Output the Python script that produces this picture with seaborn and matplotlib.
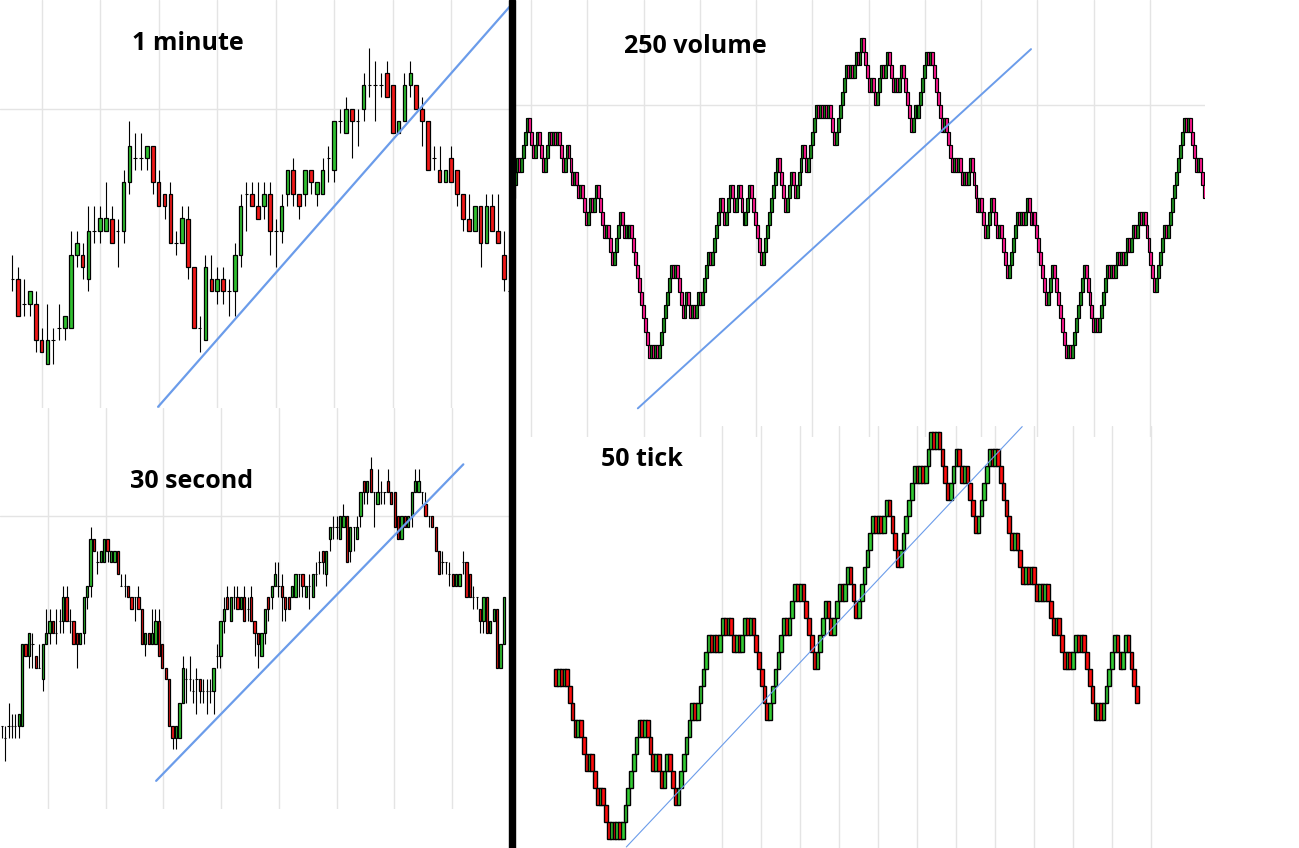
import numpy as np
import matplotlib
matplotlib.use("Agg")
import matplotlib.pyplot as plt
from matplotlib.patches import Rectangle
import seaborn as sns

# ---- 1 minute candles (price in tick levels) ----
tl_open = [7,7,5,5,5,2,0,2,3,3, 3,9,9,7,11,11,11,12,11,11,
           15,17,17,17,18,15,14,14,10,10, 12,8,3,2,7,6,7,6,6,9,
           14,14,13,13,14,11,11,14,16,14, 14,16,14,14,17,16,20,19,21,20,
           21,23,23,23,24,23,19,20,23,23, 21,20,17,16,15,17,16,14,12,11,
           13,10,13,11,9,6]
tl_close = [7,4,5,6,2,1,2,2,3,4, 9,10,8,11,11,12,12,10,11,15,
            18,17,17,18,15,13,13,10,10,12, 8,3,3,8,6,7,6,6,9,13,
            14,13,12,14,11,11,13,16,14,13, 16,15,15,16,17,20,20,21,20,20,
            23,23,23,23,22,19,20,23,24,21, 20,16,17,15,16,15,14,12,11,13,
            10,13,11,10,7,6]
tl_high = [9,8,7,6,6,3,5,3,5,4, 11,11,10,13,13,13,15,13,12,16,
           20,19,19,18,18,16,14,15,11,13, 13,8,4,9,9,8,8,7,10,14,
           15,15,15,15,15,12,14,16,17,14, 16,16,15,17,18,20,21,22,21,21,
           24,26,25,24,25,23,20,24,25,23, 22,20,18,18,16,18,16,14,14,13,
           13,14,14,14,11,6]
tl_low = [6,4,4,4,1,1,0,0,2,2, 3,8,7,6,10,10,11,10,8,10,
          14,16,16,16,14,13,12,10,9,10, 7,3,1,2,6,5,5,4,4,8,
          11,13,12,12,9,8,10,13,13,12, 13,14,13,14,15,15,19,19,17,18,
          20,22,20,22,22,19,19,20,22,21, 18,16,16,15,15,15,13,11,11,11,
          8,10,11,10,6,6]

# ---- 30 second candles ----
bl_open = [3,2,3,3,3,3,3,10,9,10, 9,8,7,10,11,12,11,12,12,14,
           12,12,11,10,11,14,15,19,17,17, 17,19,17,17,18,15,15,15,14,14,
           14,13,10,11,10,10,12,10,8,7, 3,2,2,5,7,7,6,7,7,6,
           6,6,6,9,9,12,14,12,14,14, 13,14,13,14,12,11,9,11,14,14,
           15,15,15,14,14,14,14,16,16,14, 15,14,16,17,18,16,19,20,20,19,
           20,21,18,20,19,21,24,23,25,23, 22,23,23,24,23,23,21,19,21,20,
           21,23,23,23,22,21,21,20,18,17, 17,16,16,15,15,17,17,16,14,14,
           13,12,14,11,12,13,8,10]
bl_close = [3,2,3,3,3,4,10,9,11,10, 8,8,10,11,12,11,11,12,14,12,
            12,10,10,11,14,15,19,18,17,18, 19,18,18,18,16,15,15,14,13,14,
            13,10,11,10,11,12,9,8,7,3, 2,3,5,8,7,7,6,7,6,6,
            6,6,8,9,12,13,13,14,14,13, 14,12,13,12,11,10,11,13,13,15,
            16,15,14,13,13,15,16,16,15,15, 15,16,16,17,17,18,20,20,20,21,
            21,17,20,20,20,23,23,24,23,23, 23,23,23,23,22,20,19,21,20,21,
            23,24,24,23,21,21,20,18,16,17, 17,16,15,16,16,17,14,14,14,14,
            12,14,11,12,13,8,10,14]
bl_high = [3,3,5,4,4,4,10,10,11,11, 9,10,10,13,13,12,13,13,15,15,
           13,12,11,11,14,15,20,19,18,18, 19,19,18,18,18,16,16,15,14,14,
           15,13,11,11,13,13,13,10,8,7, 3,3,5,9,8,9,7,8,7,7,
           7,7,8,10,12,14,15,14,15,15, 14,15,14,15,12,11,11,13,14,15,
           17,17,16,14,14,15,16,16,16,15, 16,16,17,18,18,18,20,21,21,21,
           22,21,20,20,21,23,24,24,26,23, 25,24,23,25,23,23,21,21,21,21,
           23,25,25,23,23,21,21,20,18,18, 17,17,16,16,16,18,17,16,15,14,
           13,14,14,12,13,13,10,14]
bl_low = [2,0,2,2,2,2,3,9,8,8, 8,8,6,10,10,11,10,11,11,12,
          11,10,8,10,10,13,14,18,16,17, 17,17,17,17,16,15,14,14,13,12,
          13,10,9,10,10,10,9,8,7,3, 1,1,2,5,5,6,5,4,5,5,
          4,5,4,8,8,11,13,12,13,13, 13,12,12,12,9,8,9,10,12,13,
          15,14,12,12,13,14,14,14,14,14, 13,14,15,16,16,15,18,19,19,19,
          20,17,17,18,19,20,22,22,23,20, 22,22,22,23,22,20,19,19,20,20,
          20,23,23,22,21,20,20,18,16,16, 16,15,15,15,15,16,14,14,13,13,
          11,11,11,11,12,8,8,10]

# ---- 250 volume bars: each bar moves one level ----
tr_start = 12
tr_close = [13,14,15,16,15,16,17,18,19,18, 17,16,17,18,17,16,15,16,17,18,
            17,18,17,18,17,16,15,16,17,16, 15,14,15,14,13,14,13,12,11,12,
            13,12,13,14,13,12,11,10,11,10, 9,8,9,10,11,12,11,10,11,10,
            11,10,9,8,7,6,5,4,3,2, 1,2,1,2,1,2,3,4,5,6,
            7,8,7,8,7,6,5,
            4,5,6,5,4,5,4,5,6,5,6,7,
            8,9,8,9,10,11,12,13,
            12,11,12,13,14,13,12,13,14,13,12,11,12,13,14,
            13,12,11,10,9,8,
            9,10,11,12,13,14,15,16,
            15,14,13,12,13,14,15,14,13,14,15,16,17,16,15,16,
            17,18,19,20,19,20,19,20,19,20,19,18,17,
            18,
            19,20,21,22,23,22,23,22,23,24, 23,24,25,24,23,22,21,22,21,20,
            21,22,23,22,23,24,23,22,21,22, 21,22,23,22,21,20,19,18,19,20,
            19,20,21,22,23,24,23,24,23,22, 21,20,19,18,19,18,17,16,15,16,
            15,16,15,14,15,14,15,16,15,14, 13,12,13,12,11,10,11,12,13,12,
            11,10,11,10,9,8,7,8,9,10, 11,12,11,
            12,11,12,13,12,11,12,11,10,9, 8,7,6,5,6,7,8,7,6,5,
            4,3,2,1,2,1,2,3,4,5, 6,7,8,7,6,5,4,3,4,3,
            4,5,6,7,8,7,8,7,8,9, 8,9,8,9,10,9,10,11,10,11,
            12,11,12,11,10,9,8,7,6,7, 8,9,10,11,10,11,12,13,14,15,
            16,17,18,19,18,19,18,17,16,15, 16,15,14,13]

# ---- 50 tick bars ----
br_start = 10
br_close = [9,10,9,10,9,8,7,6,7,6,5,4,5,4,3,2,3,2,1,0,
            1,0,1,0,1,
            2,3,4,5,6,7,
            6,7,6,5,4,5,4,3,4,5,4,3,2,3,4,
            5,6,7,8,7,8,9,10,11,12,
            11,12,11,12,13,12,13,12,11,12,11,12,13,12,13,12,
            11,10,9,8,7,8,9,
            10,11,12,13,12,13,14,15,14,15,14,
            13,12,11,10,11,12,13,14,13,
            12,13,14,15,14,15,16,15,14,13,14,15,
            16,17,18,19,18,19,18,19,20,19,18,17,16,
            17,18,19,20,21,22,21,22,21,22,
            23,24,23,24,23,22,21,20,
            21,22,23,22,21,22,21,20,
            19,18,19,20,21,22,23,
            22,23,22,21,20,19,18,
            17,18,17,16,
            15,16,15,16,15,14,15,14,15,14,
            13,12,13,12,11,
            10,11,10,11,12,11,12,11,10,
            9,8,7,8,7,
            8,9,10,11,12,
            11,10,11,12,11,10,9,8]

# trend lines: (bar index, level) at both ends
tl_trend_x, tl_trend_y = [24.9, 86.0], [-3.5, 30.0]
tr_trend_x, tr_trend_y = [64.0, 264.0], [-2.75, 24.2]
bl_trend_x, bl_trend_y = [45.2, 135.1], [-1.7, 25.4]
br_trend_x, br_trend_y = [25.3, 167.7], [-0.5, 24.3]

titles = ["1 minute", "250 volume", "30 second", "50 tick"]

sns.set_theme(style="white")
plt.rcParams["font.family"] = ["Open Sans", "DejaVu Sans"]

W, H = 1299, 848
fig = plt.figure(figsize=(W / 100, H / 100), dpi=100)
fig.patch.set_facecolor("white")

GRID = "#e4e4e4"
BLUE = "#6b9cea"


def panel(l, r, t, b, x0, dx, y0, dy, gx, gy):
    # axes placed in pixels; x0/dx: pixel of bar 0 and bar spacing, y0/dy: pixel of level 0 and level step
    ax = fig.add_axes([l / W, 1 - b / H, (r - l) / W, (b - t) / H])
    ax.set_xlim((l - x0) / dx, (r - x0) / dx)
    ax.set_ylim((y0 - b) / dy, (y0 - t) / dy)
    ax.patch.set_alpha(0)
    sns.despine(ax=ax, left=True, bottom=True)
    ax.set_xticks(gx)
    ax.set_yticks(gy)
    ax.tick_params(length=0, labelbottom=False, labelleft=False)
    ax.grid(True, color=GRID, lw=1.0)
    ax.set_axisbelow(True)
    return ax


def candles(ax, o, c, h, l, width, up, down):
    o, c, h, l = (np.asarray(v, dtype=float) for v in (o, c, h, l))
    x = np.arange(len(o))
    ax.vlines(x, l, h, colors="black", lw=0.8, zorder=2)
    body = o != c
    cols = np.where(c > o, up, down)
    ax.bar(x[body], (c - o)[body], bottom=o[body], width=width, color=cols[body],
           edgecolor="black", linewidth=0.9, zorder=3)
    ax.hlines(o[~body], x[~body] - width / 2, x[~body] + width / 2,
              colors="black", lw=0.8, zorder=3)


def range_bars(ax, start, closes, width, up, down, lw):
    c = np.asarray(closes, dtype=float)
    o = np.r_[start, c[:-1]]
    x = np.arange(len(c))
    ax.bar(x, c - o, bottom=o, width=width, color=np.where(c > o, up, down),
           edgecolor="black", linewidth=lw, zorder=3)


# 1 minute
ax1 = panel(0, 509, 0, 408, 12.33, 5.853, 364.3, 12.15, np.arange(5, 80, 10), [21])
candles(ax1, tl_open, tl_close, tl_high, tl_low, 0.62, "#30c030", "#f01818")
sns.lineplot(x=tl_trend_x, y=tl_trend_y, ax=ax1, color=BLUE, lw=1.6, zorder=4)

# 30 second
ax3 = panel(0, 509, 408, 809, 1.7, 3.417, 761, 11.68, np.arange(13.5, 135, 16.9), [21])
candles(ax3, bl_open, bl_close, bl_high, bl_low, 0.66, "#30c030", "#f01818")
sns.lineplot(x=bl_trend_x, y=bl_trend_y, ax=ax3, color=BLUE, lw=1.6, zorder=4)

# 250 volume
ax2 = panel(510, 1205, 0, 437, 512, 1.966, 371.7, 13.33, np.arange(9.8, 330, 28.6), [20])
range_bars(ax2, tr_start, tr_close, 1.5, "#1c8c1c", "#ff1a90", 0.85)
sns.lineplot(x=tr_trend_x, y=tr_trend_y, ax=ax2, color=BLUE, lw=1.4, zorder=4)

# 50 tick
ax4 = panel(514, 1299, 426, 848, 556, 2.78, 838.5, 16.95, np.arange(59.6, 215, 14.03), [])
range_bars(ax4, br_start, br_close, 1.3, "#33cc33", "#ff0d0d", 1.0)
sns.lineplot(x=br_trend_x, y=br_trend_y, ax=ax4, color=BLUE, lw=0.8, zorder=4)

# titles (pixel centre, baseline)
for txt, (px, py) in zip(titles, [(188, 50), (695, 53), (192, 488.5), (642, 466.5)]):
    fig.text(px / W, 1 - py / H, txt, ha="center", va="baseline",
             fontsize=18, fontweight="bold", color="black")

# black divider between left and right charts
fig.add_artist(Rectangle((509 / W, 0), 5.5 / W, 1, transform=fig.transFigure,
                         color="black", zorder=10))

fig.savefig("out.png", dpi=100, facecolor="white")
